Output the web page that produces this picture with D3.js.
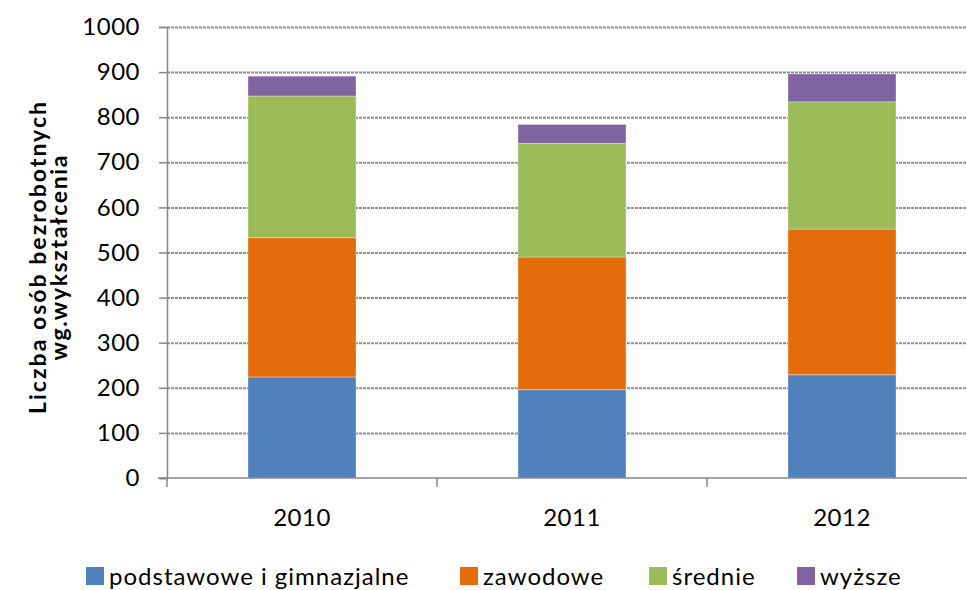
<!DOCTYPE html>
<html>
<head>
<meta charset="utf-8">
<script src="https://cdn.jsdelivr.net/npm/d3@7"></script>
<style>
  body { margin: 0; background: #fff; }
  svg { display: block; font-family: Lato, "Open Sans", sans-serif; }
</style>
</head>
<body>
<svg width="967" height="590"></svg>
<script>
const svg = d3.select("svg");
const width = +svg.attr("width");
const height = +svg.attr("height");

// data
const years = ["2010", "2011", "2012"];
const categories = ["podstawowe i gimnazjalne", "zawodowe", "średnie", "wyższe"];
const podstawowe = [224, 196, 229];
const zawodowe = [309, 294, 323];
const srednie = [314, 252, 282];
const wyzsze = [44, 42, 62];
const yTicks = [0, 100, 200, 300, 400, 500, 600, 700, 800, 900, 1000];

const colors = ["#4F81BD", "#E46C0A", "#9BBB59", "#8064A2"];

const rows = years.map((y, i) => ({
  year: y,
  [categories[0]]: podstawowe[i],
  [categories[1]]: zawodowe[i],
  [categories[2]]: srednie[i],
  [categories[3]]: wyzsze[i],
}));

const stacked = d3.stack().keys(categories)(rows);

// scales
const x = d3.scaleBand().domain(years).range([167, 977]).paddingInner(0.6).paddingOuter(0.3);
const y = d3.scaleLinear().domain([0, 1000]).range([478, 27]);
const color = d3.scaleOrdinal().domain(categories).range(colors);

// grid lines
const grid = svg.append("g")
  .attr("transform", "translate(167,0)")
  .call(d3.axisLeft(y).tickValues(yTicks.slice(1)).tickSize(-(width - 167)).tickFormat(""));
grid.select(".domain").remove();
grid.selectAll("line")
  .attr("stroke", "#8f8f8f")
  .attr("stroke-width", 2)
  .attr("stroke-dasharray", "3,1");

// bars
svg.append("g")
  .selectAll("g")
  .data(stacked)
  .join("g")
  .attr("fill", (d) => color(d.key))
  .selectAll("rect")
  .data((d) => d)
  .join("rect")
  .attr("x", (d) => x(d.data.year))
  .attr("width", x.bandwidth())
  .attr("y", (d) => y(d[1]))
  .attr("height", (d) => y(d[0]) - y(d[1]))
  .attr("stroke", "rgba(255,255,255,0.35)")
  .attr("stroke-width", 1);

// y axis
const yAxisG = svg.append("g")
  .attr("transform", "translate(167,0)")
  .call(d3.axisLeft(y).tickValues(yTicks).tickFormat(d3.format("d")).tickSize(8).tickPadding(19));
yAxisG.select(".domain").attr("stroke", "#878787").attr("stroke-width", 1.5);
yAxisG.selectAll("line").attr("stroke", "#878787").attr("stroke-width", 1.5);
yAxisG.selectAll("text")
  .attr("font-size", 24)
  .attr("letter-spacing", 0.5)
  .attr("font-family", "Lato, sans-serif")
  .attr("fill", "#000");

// x axis
const xAxisG = svg.append("g")
  .attr("transform", "translate(0,478)")
  .call(d3.axisBottom(x).tickSize(0).tickPadding(31));
xAxisG.select(".domain").remove();
xAxisG.selectAll("text")
  .attr("font-size", 24)
  .attr("letter-spacing", 0.5)
  .attr("font-family", "Lato, sans-serif")
  .attr("fill", "#000");
xAxisG.append("line")
  .attr("x1", 158).attr("x2", width)
  .attr("stroke", "#878787").attr("stroke-width", 1.5);
xAxisG.selectAll(".bound")
  .data(d3.range(years.length + 1))
  .join("line")
  .attr("class", "bound")
  .attr("x1", (i) => x.range()[0] + i * x.step())
  .attr("x2", (i) => x.range()[0] + i * x.step())
  .attr("y1", 0).attr("y2", 9)
  .attr("stroke", "#878787").attr("stroke-width", 1.5);

// y axis title
const yTitle = svg.append("text")
  .attr("transform", "translate(0,258) rotate(-90)")
  .attr("text-anchor", "middle")
  .attr("font-size", 23)
  .attr("font-weight", "bold")
  .attr("fill", "#000");
yTitle.append("tspan").attr("x", 0).attr("y", 46)
  .attr("textLength", 312).attr("lengthAdjust", "spacing")
  .text("Liczba osób bezrobotnych");
yTitle.append("tspan").attr("x", 0).attr("y", 67)
  .attr("textLength", 205).attr("lengthAdjust", "spacing")
  .text("wg.wykształcenia");

// legend
const legendX = [86, 460, 649, 797];
const legend = svg.append("g")
  .selectAll("g")
  .data(categories)
  .join("g")
  .attr("transform", (d, i) => `translate(${legendX[i]},567)`);
legend.append("rect")
  .attr("width", 18).attr("height", 18)
  .attr("fill", (d) => color(d));
legend.append("text")
  .attr("x", 23).attr("y", 18)
  .attr("font-size", 24)
  .attr("letter-spacing", 1)
  .attr("fill", "#000")
  .text((d) => d);
</script>
</body>
</html>
